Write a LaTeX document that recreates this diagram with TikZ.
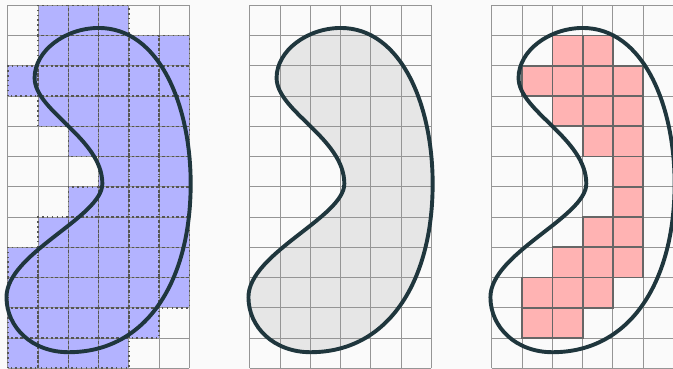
\documentclass[tikz,border=0pt]{standalone}
\usepackage{tikz}
\definecolor{paper}{HTML}{FAFAFA}
\definecolor{rule}{HTML}{959595}
\definecolor{ink}{HTML}{1F363D}
\definecolor{outerc}{HTML}{B3B3FF}
\definecolor{innerc}{HTML}{FFB3B3}
\definecolor{areac}{HTML}{E6E6E6}
\definecolor{edge}{HTML}{555555}
\tikzset{
  gridline/.style={draw=rule, line width=0.55pt},
  outercell/.style={fill=outerc},
  outeredge/.style={draw=edge, line width=0.85pt, dash pattern=on 0.85pt off 1.9pt},
  innercell/.style={fill=innerc, draw=edge!90, line width=1pt},
  contour/.style={draw=ink, line width=2.2pt},
  area/.style={fill=areac}
}
\newcommand{\blob}[1]{%
  \path[#1] (3,11.25) .. controls (5,11.25) and (6.04,8.7) .. (6.04,6.1)
    .. controls (6.04,2.9) and (4.6,0.53) .. (2,0.53)
    .. controls (0.8,0.53) and (-0.05,1.35) .. (-0.05,2.35)
    .. controls (-0.05,3.8) and (3.12,5) .. (3.12,6.1)
    .. controls (3.12,7.6) and (0.88,8.5) .. (0.88,9.6)
    .. controls (0.88,10.5) and (1.9,11.25) .. cycle;}
\begin{document}
\begin{tikzpicture}[x=0.6cm, y=0.6cm]
  \fill[paper] (-0.264,-0.023) rectangle (21.986,12.175);
  \useasboundingbox (-0.264,-0.023) rectangle (21.986,12.175);
  % outer approximation
  \begin{scope}
    \foreach \r/\a/\b in {0/1/3,1/1/5,2/0/5,3/1/5,4/2/5,5/3/5,6/2/5,7/1/5,8/0/5,9/0/5,10/0/4,11/0/3}
      \foreach \c in {\a,...,\b}
        \fill[outercell] (\c,11-\r) rectangle ++(1,1);
    \draw[gridline, step=1] (0,0) grid (6,12);
    \foreach \r/\a/\b in {0/1/3,1/1/5,2/0/5,3/1/5,4/2/5,5/3/5,6/2/5,7/1/5,8/0/5,9/0/5,10/0/4,11/0/3}
      \foreach \c in {\a,...,\b}
        \draw[outeredge] (\c,11-\r) rectangle ++(1,1);
    \blob{contour}
  \end{scope}
  % exact region
  \begin{scope}[xshift=4.8cm]
    \blob{area}
    \draw[gridline, step=1] (0,0) grid (6,12);
    \blob{contour}
  \end{scope}
  % inner approximation
  \begin{scope}[xshift=9.6cm]
    \draw[gridline, step=1] (0,0) grid (6,12);
    \foreach \r/\a/\b in {1/2/3,2/1/4,3/2/4,4/3/4,5/4/4,6/4/4,7/3/4,8/2/4,9/1/3,10/1/2}
      \foreach \c in {\a,...,\b}
        \draw[innercell] (\c,11-\r) rectangle ++(1,1);
    \blob{contour}
  \end{scope}
\end{tikzpicture}
\end{document}
